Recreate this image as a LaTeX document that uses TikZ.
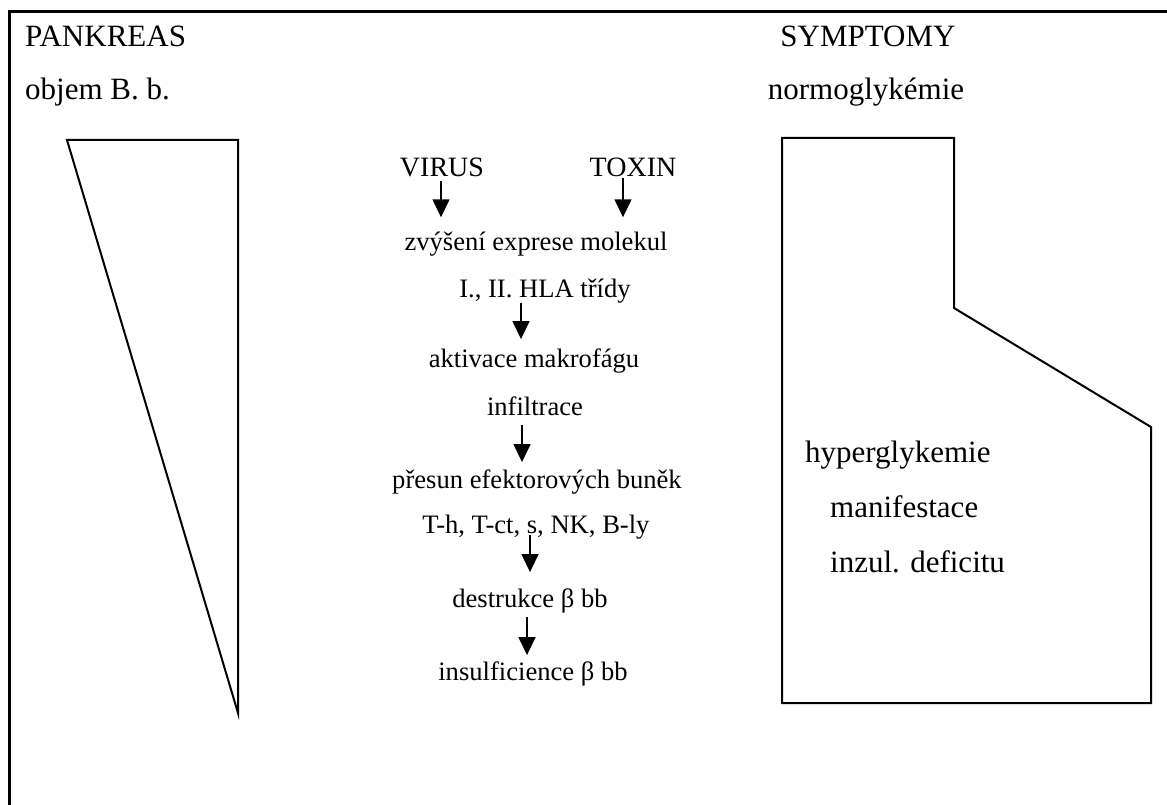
\documentclass[tikz,border=0pt]{standalone}
\usepackage{fontspec}
\setmainfont{Liberation Serif}
\usetikzlibrary{arrows.meta}

\begin{document}
\begin{tikzpicture}[x=1pt,y=-1pt,
  big/.style={inner sep=0pt,anchor=base,font=\fontsize{31}{36}\selectfont},
  mid/.style={inner sep=0pt,anchor=base,font=\fontsize{26.6}{31}\selectfont},
  cause/.style={inner sep=0pt,anchor=base,font=\fontsize{28}{33}\selectfont},
  arr/.style={line width=1.5pt,-{Triangle[length=18pt,width=17pt]}},
  outline/.style={line width=2pt,line join=miter}]
\useasboundingbox (0,0) rectangle (1167,805);
\draw[line width=3pt] (9,805) -- (9,12) -- (1167,12);
% headings
\node[big,anchor=base west] (pank) at (25,47) {PANKREAS};
\node[big,anchor=base west] (objem) at (25,100) {objem B. b.};
\node[big] (sympt) at (868,47) {SYMPTOMY};
\node[big] (normo) at (866,100) {normoglykémie};
% shapes
\draw[outline] (67,140) -- (238,140) -- (238,713) -- cycle;
\draw[outline] (782,138) -- (954,138) -- (954,308) -- (1151,427) -- (1151,703) -- (782,703) -- cycle;
% middle column
\node[cause] (virus) at (442,177) {VIRUS};
\node[cause] (toxin) at (633,177) {TOXIN};
\node[mid] (expr) at (536,250) {zvýšení exprese molekul};
\node[mid] (hla) at (545,297) {I., II. HLA třídy};
\node[mid] (makro) at (534,367) {aktivace makrofágu};
\node[mid] (infil) at (535,415) {infiltrace};
\node[mid] (presun) at (537,488) {přesun efektorových buněk};
\node[mid] (tly) at (536,533) {T-h, T-ct, s, NK, B-ly};
\node[mid] (destr) at (530,607) {destrukce β bb};
\node[mid] (insuf) at (533,680) {insulficience β bb};
\draw[arr,shorten <=3pt,shorten >=14pt] ([xshift=-1pt]virus.south) -- ([xshift=-1pt]virus.south |- expr.north);
\draw[arr,shorten <=1pt,shorten >=14pt] ([xshift=-10pt]toxin.south) -- ([xshift=-10pt]toxin.south |- expr.north);
\draw[arr,shorten >=9pt] ([xshift=-24pt]hla.south) -- ([xshift=-24pt]hla.south |- makro.north);
\draw[arr,shorten <=10pt,shorten >=7pt] ([xshift=-13pt]infil.south) -- ([xshift=-13pt]infil.south |- presun.north);
\draw[arr,shorten <=-4pt,shorten >=16pt] ([xshift=-6pt]tly.south) -- ([xshift=-6pt]tly.south |- destr.north);
\draw[arr,shorten <=4pt,shorten >=6pt] ([xshift=-3pt]destr.south) -- ([xshift=-3pt]destr.south |- insuf.north);
% symptoms
\node[big,anchor=base west] (hyper) at (805,462) {hyperglykemie};
\node[big,anchor=base west] (manif) at (830,517) {manifestace};
\node[big,anchor=base west] (inzul) at (830,572) {inzul. deficitu};
\end{tikzpicture}
\end{document}
